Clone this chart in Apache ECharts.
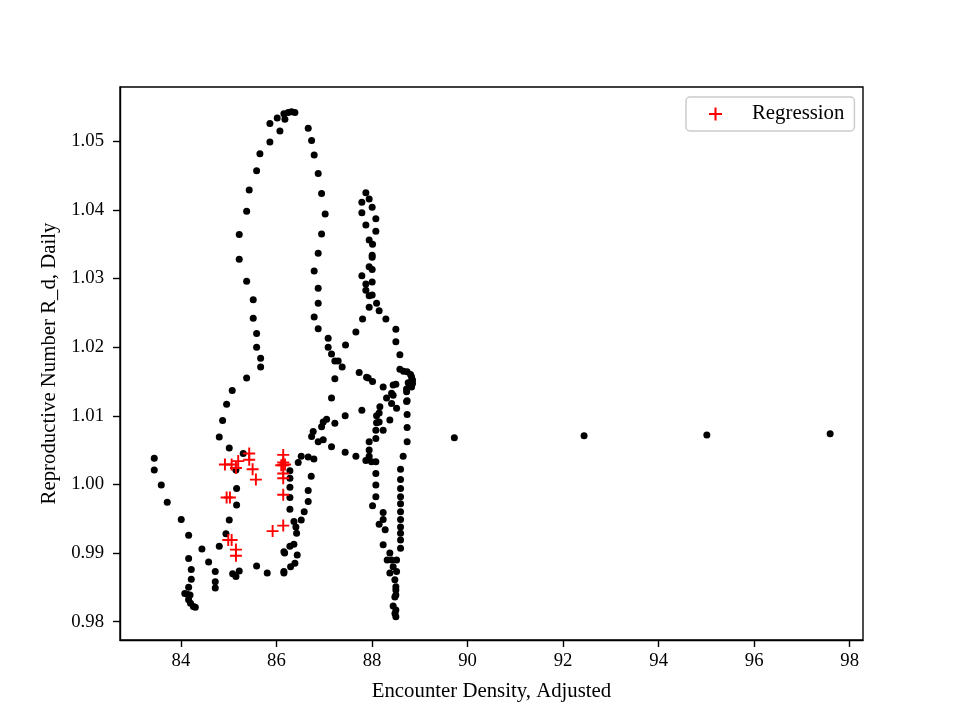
<!DOCTYPE html>
<html>
<head>
<meta charset="utf-8">
<script src="https://cdn.jsdelivr.net/npm/echarts@6/dist/echarts.min.js"></script>
<style>html,body{margin:0;padding:0;background:#fff;}#chart{width:960px;height:720px;}</style>
</head>
<body>
<div id="chart"></div>
<script>
// Tick labels
const xTicks = [84, 86, 88, 90, 92, 94, 96, 98];
const yTicks = [0.98, 0.99, 1.00, 1.01, 1.02, 1.03, 1.04, 1.05];

// Observed daily points: [encounter density, R_d]
const observedPoints = [
  [84.956,1.0117],[84.872,1.0093],[84.802,1.0069],[85.011,1.0053],[85.304,1.0045],[85.151,1.0021],
  [85.165,0.9994],[85.165,0.9970],[85.011,0.9948],[84.942,0.9928],[84.802,0.9910],[84.439,0.9906],
  [84.579,0.9887],[84.718,0.9873],[84.718,0.9858],[84.718,0.9849],[84.161,0.9892],[84.216,0.9876],
  [84.216,0.9862],[84.161,0.9850],[84.08,0.9841],[84.13,0.9840],[84.19,0.9839],[84.16,0.9832],
  [84.20,0.9827],[84.26,0.9822],[84.30,0.9821],[83.441,1.0038],[83.441,1.0021],[83.588,0.9999],
  [83.713,0.9974],[84.006,0.9949],[84.161,0.9926],[85.082,0.9870],[85.151,0.9866],[85.220,0.9874],
  [85.584,0.9881],[85.806,0.9871],[86.155,0.9871],
  [85.862,1.0526],[86.015,1.0534],[86.072,1.0515],[86.155,1.0540],[86.176,1.0532],[86.245,1.0542],
  [86.316,1.0543],[86.385,1.0542],[86.664,1.0519],[85.862,1.0499],[85.653,1.0482],[85.584,1.0457],
  [85.429,1.0429],[85.375,1.0398],[85.220,1.0364],[85.220,1.0328],[85.375,1.0296],[85.513,1.0269],
  [85.513,1.0242],[85.584,1.0220],[85.584,1.0200],[85.668,1.0184],[85.668,1.0171],[85.375,1.0155],
  [85.073,1.0137],[86.735,1.0501],[86.789,1.0480],[86.873,1.0453],[86.944,1.0424],[87.019,1.0394],
  [86.944,1.0365],[86.873,1.0337],[86.789,1.0311],[86.873,1.0286],[86.873,1.0264],[86.789,1.0244],
  [86.873,1.0227],[87.082,1.0213],[87.082,1.0200],[87.152,1.0190],[87.222,1.0180],[87.291,1.0180],
  [87.375,1.0171],[87.222,1.0154],[87.152,1.0126],[87.445,1.0203],
  [87.662,1.0222],[87.802,1.0241],[87.940,1.0258],[88.095,1.0264],[88.149,1.0253],[88.290,1.0241],
  [88.499,1.0226],[88.499,1.0208],[88.583,1.0189],[88.583,1.0168],[88.735,1.0164],[88.806,1.0160],
  [88.848,1.0152],[88.827,1.0142],[88.723,1.0139],[88.499,1.0146],[88.233,1.0142],[88.011,1.0150],
  [87.886,1.0156],[87.731,1.0163],[87.438,1.0100],[87.787,1.0108],[88.373,1.0094],[88.164,1.0113],
  [88.149,1.0104],[88.304,1.0126],[88.442,1.0130],[88.409,1.0118],[88.514,1.0111],[88.735,1.0122],
  [88.735,1.0102],[88.735,1.0083],[88.735,1.0062],[88.652,1.0041],
  [88.597,1.0022],[88.597,1.0007],[88.597,0.9994],[88.597,0.9982],[88.597,0.9972],[88.597,0.9960],
  [88.597,0.9949],[88.597,0.9938],[88.597,0.9929],[88.597,0.9919],[88.597,0.9907],
  [88.080,1.0079],[88.233,1.0079],[88.149,1.0091],[88.080,1.0067],[87.940,1.0062],[87.940,1.0050],
  [87.940,1.0041],[87.871,1.0035],[87.990,1.0033],[88.080,1.0033],[88.080,1.0016],[88.080,0.9999],
  [88.080,0.9982],[88.011,0.9969],[88.233,0.9959],[88.149,0.9942],[88.233,0.9949],[88.275,0.9934],
  [88.233,0.9912],[88.373,0.9900],[88.317,0.9890],[88.442,0.9880],[88.373,0.9871],[88.478,0.9861],
  [88.499,0.9851],[88.499,0.9839],
  [87.049,1.0095],[86.978,1.0091],[87.222,1.0089],[86.944,1.0084],[86.768,1.0077],[86.735,1.0070],
  [86.873,1.0062],[86.978,1.0065],[87.152,1.0055],[87.438,1.0047],[87.662,1.0041],[86.518,1.0041],
  [86.664,1.0040],[86.783,1.0037],[86.455,1.0032],[86.727,1.0012],[86.664,0.9991],[86.664,0.9975],
  [86.580,0.9960],[86.518,0.9948],[86.365,0.9946],[86.421,0.9929],[86.365,0.9913],[86.281,0.9910],
  [86.434,0.9897],[86.385,0.9885],[86.295,0.9880],[86.155,0.9873],[86.170,0.9900],[86.155,0.9902],
  [86.406,0.9938],[86.281,1.0020],[86.281,1.0009],[86.281,0.9996],[86.281,0.9981],[86.281,0.9964],
  [87.871,1.0425],[87.940,1.0416],[87.787,1.0411],[88.003,1.0404],[87.787,1.0396],[88.080,1.0387],
  [87.871,1.0378],[88.080,1.0369],[87.940,1.0356],[88.011,1.0350],[88.003,1.0334],[88.003,1.0331],
  [87.940,1.0317],[88.003,1.0313],[87.787,1.0304],[87.871,1.0292],[88.003,1.0295],[87.871,1.0283],
  [87.940,1.0275],[88.003,1.0276],
  [88.827,1.0157],[88.848,1.0147],[88.757,1.0148],[88.723,1.0135],[88.723,1.0121],[87.919,1.0155],
  [88.442,1.0145],[88.409,1.0133],[88.095,1.0100],[88.095,1.0090],[88.409,0.9890],[88.514,0.9890],
  [88.514,0.9873],[88.499,0.9846],[88.478,0.9836],[88.442,0.9823],[88.499,0.9817],[88.499,0.9807],
  [88.480,0.9812],[88.66,1.0165],[88.82,1.0150],
  [89.723,1.0068],[92.439,1.0071],[95.009,1.0072],[97.590,1.0074]
];

// Regression points: [encounter density, R_d]
const regressionPoints = [
  [84.921,1.0029],[85.061,1.0029],[85.199,1.0034],[85.151,1.0024],[85.429,1.0045],[85.429,1.0036],
  [85.500,1.0022],[85.569,1.0007],[84.956,0.9981],[85.025,0.9981],[84.990,0.9919],[85.061,0.9919],
  [85.151,0.9905],[85.151,0.9896],[85.919,0.9932],[86.141,0.9940],[86.141,1.0043],[86.141,1.0032],
  [86.141,1.0028],[86.100,1.0028],[86.180,1.0029],[86.141,1.0016],[86.141,1.0009],[86.141,0.9985]
];

const seriesNames = ['Observed', 'Regression'];
const xTitle = 'Encounter Density, Adjusted';
const yTitle = 'Reproductive Number R_d, Daily';

const FONT = '"Liberation Serif", "Times New Roman", serif';
const plusPath = 'path://M4.2,0h1.6v4.2h4.2v1.6h-4.2v4.2h-1.6v-4.2h-4.2v-1.6h4.2z';

const chart = echarts.init(document.getElementById('chart'), null, {renderer: 'canvas'});
chart.setOption({
  animation: false,
  backgroundColor: '#fff',
  grid: {left: 120, right: 97, top: 87, bottom: 80, show: true, borderColor: '#000', borderWidth: 1.4, backgroundColor: 'transparent'},
  legend: {
    data: [{name: seriesNames[1], icon: plusPath}],
    left: 686, top: 97,
    padding: [6, 10, 6, 23],
    itemWidth: 13, itemHeight: 13,
    borderColor: '#cccccc', borderWidth: 1.5, borderRadius: 4, backgroundColor: '#fff',
    textStyle: {fontFamily: FONT, fontSize: 20.8, color: '#000', padding: [0, 0, 0, 25], lineHeight: 22}
  },
  xAxis: {
    type: 'value', min: 82.724, max: 98.278,
    name: xTitle, nameLocation: 'middle', nameGap: 41,
    nameTextStyle: {fontFamily: FONT, fontSize: 20.8, color: '#000'},
    axisLine: {show: true, lineStyle: {color: '#000', width: 1.4}},
    axisTick: {show: true, customValues: xTicks, length: 7, lineStyle: {color: '#000', width: 1.4}},
    axisLabel: {customValues: xTicks, fontFamily: FONT, fontSize: 18.75, color: '#000', margin: 12},
    splitLine: {show: false}
  },
  yAxis: {
    type: 'value', min: 0.97733, max: 1.05791,
    name: yTitle, nameLocation: 'middle', nameGap: 58, nameRotate: 90,
    nameTextStyle: {fontFamily: FONT, fontSize: 20.8, color: '#000'},
    axisLine: {show: true, lineStyle: {color: '#000', width: 1.4}},
    axisTick: {show: true, customValues: yTicks, length: 7, lineStyle: {color: '#000', width: 1.4}},
    axisLabel: {customValues: yTicks, fontFamily: FONT, fontSize: 18.75, color: '#000', margin: 16,
      formatter: v => Number(v).toFixed(2)},
    splitLine: {show: false}
  },
  series: [
    {name: seriesNames[0], type: 'scatter', data: observedPoints, symbol: 'circle', symbolSize: 7,
     itemStyle: {color: '#000', opacity: 1}, z: 2},
    {name: seriesNames[1], type: 'scatter', data: regressionPoints, symbol: plusPath, symbolSize: 12,
     itemStyle: {color: '#ff0000', opacity: 1}, z: 3}
  ]
});
</script>
</body>
</html>
